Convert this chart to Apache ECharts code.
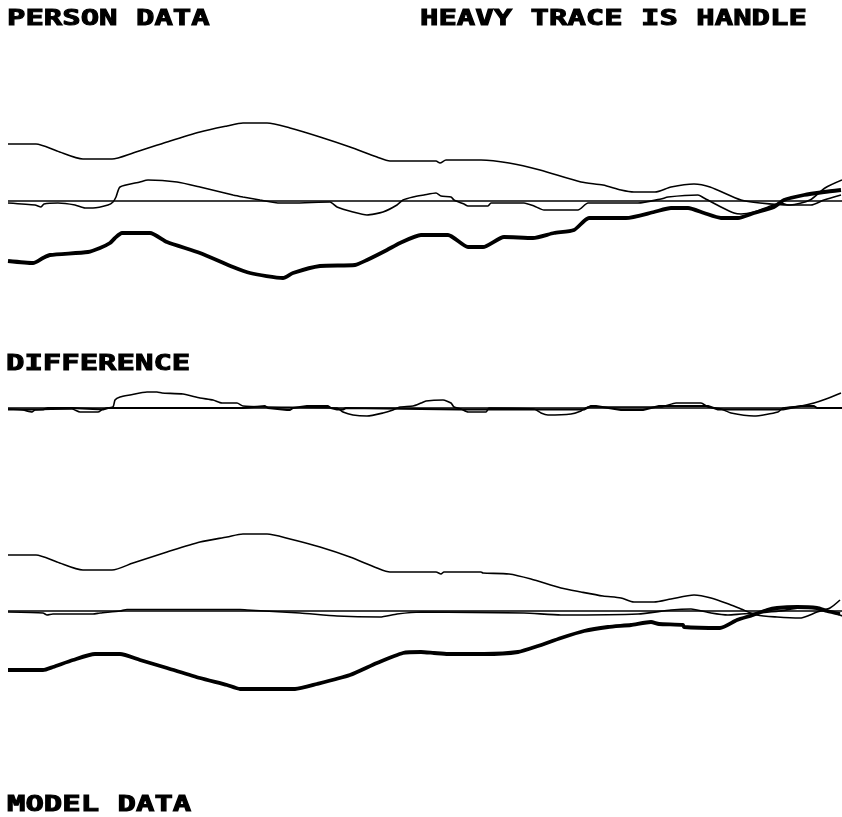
<!DOCTYPE html>
<html>
<head>
<meta charset="utf-8">
<script src="https://cdn.jsdelivr.net/npm/echarts@6/dist/echarts.min.js"></script>
<style>
html,body{margin:0;padding:0;background:#fff;}
#chart{width:842px;height:817px;}
</style>
</head>
<body>
<div id="chart"></div>
<script>
// ---- Labels ----
const panelTitles = ['PERSON DATA', 'DIFFERENCE', 'MODEL DATA'];
const noteText = 'HEAVY TRACE IS HANDLE';

// ---- Time axis (samples) ----
const sampleRange = [0, 834];
const ampRange = [-100, 100];

// ---- PERSON DATA panel: [sample, amplitude] ----
const personUpper = [[0,57],[28,57],[49,50],[75,42],[104,42],[125,48],[159,59],[192,69],[219,75],[235,78],[259,78],[282,73],[312,64],[342,54],[369,44],[382,40],[428,40],[432,38],[438,41],[473,41],[501,38],[532,31],[573,19],[595,16],[613,11],[626,9],[647,9],[663,14],[686,17],[702,14],[733,1],[752,-2],[782,-4],[802,1],[817,13],[834,21]];
const personMiddle = [[0,-2],[27,-4],[33,-6],[36,-3],[50,-2],[67,-4],[77,-7],[85,-7],[100,-4],[105,-1],[108,4],[112,14],[132,19],[140,21],[169,19],[192,14],[225,6],[235,4],[252,1],[272,-2],[285,-2],[322,-1],[329,-6],[345,-11],[359,-14],[375,-11],[389,-4],[395,1],[405,4],[416,6],[428,8],[433,5],[443,4],[446,1],[456,-3],[460,-5],[480,-5],[483,-2],[516,-2],[526,-5],[536,-9],[570,-9],[580,-2],[603,-2],[630,-2],[653,2],[660,4],[690,6],[696,3],[713,-6],[726,-12],[733,-13],[746,-11],[760,-6],[773,-2],[780,-4],[803,-4],[816,1],[833,6]];
const personHandle = [[0,-60],[25,-62],[35,-57],[42,-54],[80,-51],[92,-47],[102,-42],[107,-37],[114,-32],[142,-32],[159,-41],[192,-52],[225,-66],[242,-72],[275,-77],[285,-72],[312,-65],[347,-64],[359,-59],[379,-49],[392,-42],[413,-34],[440,-34],[460,-46],[475,-46],[496,-36],[525,-37],[546,-32],[566,-29],[581,-17],[618,-17],[646,-11],[663,-7],[680,-7],[696,-12],[713,-17],[730,-17],[746,-12],[766,-6],[776,1],[796,6],[816,9],[833,11]];

// ---- DIFFERENCE panel ----
const diffThin = [[0,-1],[15,-2],[24,-4],[27,-2],[64,-1],[72,-4],[90,-4],[95,-1],[105,1],[107,8],[112,11],[122,13],[139,16],[149,16],[154,15],[175,14],[192,10],[205,8],[214,5],[229,5],[235,2],[259,1],[329,0],[335,-4],[345,-7],[359,-8],[375,-5],[385,-2],[392,1],[405,2],[413,5],[418,7],[435,8],[443,5],[446,1],[453,-1],[460,-4],[478,-4],[481,0],[526,-1],[533,-5],[540,-7],[563,-6],[573,-3],[580,1],[653,1],[668,5],[693,5],[700,1],[713,-1],[723,-5],[746,-8],[770,-4],[775,0],[793,2],[806,5],[818,9],[833,15]];
const diffHandle = [[0,-1.5],[35,-1.5],[40,0],[64,0],[66,-1.5],[95,-1.5],[100,0],[235,0],[237,2],[257,2],[260,0],[279,-2],[282,-2],[285,0],[299,2],[320,2],[323,0],[329,-1.5],[335,-1.5],[338,0],[451,-1.5],[458,-1.5],[460,0],[525,-1.5],[530,-1.5],[532,0],[571,-1.5],[576,-1.5],[578,0],[583,2],[588,2],[590,0],[613,-2],[635,-2],[637,0],[651,2],[668,2],[670,0],[693,2],[700,2],[702,0],[710,-1.5],[716,-1.5],[718,0],[771,-1.5],[775,-1.5],[777,0],[793,2],[806,2],[809,0],[834,0]];

// ---- MODEL DATA panel ----
const modelUpper = [[0,56],[28,56],[49,49],[75,41],[104,41],[125,48],[159,59],[192,69],[219,74],[235,77],[259,77],[282,72],[312,64],[342,54],[369,43],[382,39],[428,39],[433,37],[436,39],[473,39],[475,38],[501,37],[523,32],[553,23],[573,19],[595,15],[613,13],[626,9],[646,9],[663,12],[686,16],[703,13],[723,6],[733,2],[749,-4],[769,-6],[792,-7],[802,-4],[809,-1],[822,3],[832,11]];
const modelMiddle = [[0,-1],[35,-2],[39,-4],[45,-3],[85,-3],[92,-2],[112,0],[119,1.5],[139,1.5],[232,1.5],[239,1],[292,-2],[329,-5],[372,-6],[389,-3],[413,-1],[516,-2],[553,-4],[630,-3],[663,1],[683,2],[703,-2],[720,-4],[733,-3],[749,-2],[772,0],[792,3],[812,2],[827,-2],[834,-5]];
const modelHandle = [[0,-59],[35,-59],[45,-56],[65,-49],[87,-43],[112,-43],[132,-49],[159,-57],[192,-67],[219,-74],[232,-78],[287,-78],[309,-73],[342,-64],[369,-52],[395,-42],[413,-41],[426,-42],[440,-43],[476,-43],[510,-41],[530,-35],[553,-27],[576,-20],[600,-16],[623,-14],[643,-11],[651,-13],[675,-14],[676,-16],[712,-17],[729,-9],[745,-4],[759,1],[769,3],[789,4],[809,3],[819,0],[832,-3]];

const baseline = [[0,0],[834,0]];

const chart = echarts.init(document.getElementById('chart'), null, {renderer:'canvas'});

const gridTops = [101, 308, 511];
const grids = gridTops.map(t => ({left:8, width:834, top:t, height:200, containLabel:false}));
const xAxes = gridTops.map((t,i) => ({type:'value', gridIndex:i, min:sampleRange[0], max:sampleRange[1], show:false}));
const yAxes = gridTops.map((t,i) => ({type:'value', gridIndex:i, min:ampRange[0], max:ampRange[1], show:false}));

function line(data, idx, width, smooth) {
  return {type:'line', xAxisIndex:idx, yAxisIndex:idx, data:data, showSymbol:false, symbol:'none',
    smooth: smooth, lineStyle:{color:'#000', width:width}, silent:true, clip:false};
}

const series = [
  line(baseline,0,1.5,false), line(personUpper,0,1.6,0.25), line(personMiddle,0,1.6,0.2), line(personHandle,0,3.8,0.2),
  line(baseline,1,1.5,false), line(diffHandle,1,2,false), line(diffThin,1,1.6,0.2),
  line(baseline,2,1.5,false), line(modelUpper,2,1.6,0.25), line(modelMiddle,2,1.6,0.2), line(modelHandle,2,3.8,0.2)
];

const font = 'bold 20px "DejaVu Sans Mono"';
const sx = 1.53;
function label(text, x, yMid) {
  return {type:'text', x:x, y:yMid, scaleX:sx, scaleY:1.1, silent:true,
    style:{text:text, font:font, fill:'#000', stroke:'#000', lineWidth:0.9, verticalAlign:'middle', align:'left'}};
}

chart.setOption({
  animation:false,
  backgroundColor:'#fff',
  grid:grids, xAxis:xAxes, yAxis:yAxes, series:series,
  graphic:[
    label(panelTitles[0], 7, 19.5),
    label(noteText, 420, 19.5),
    label(panelTitles[1], 6, 364.5),
    label(panelTitles[2], 7, 805)
  ]
});
</script>
</body>
</html>
